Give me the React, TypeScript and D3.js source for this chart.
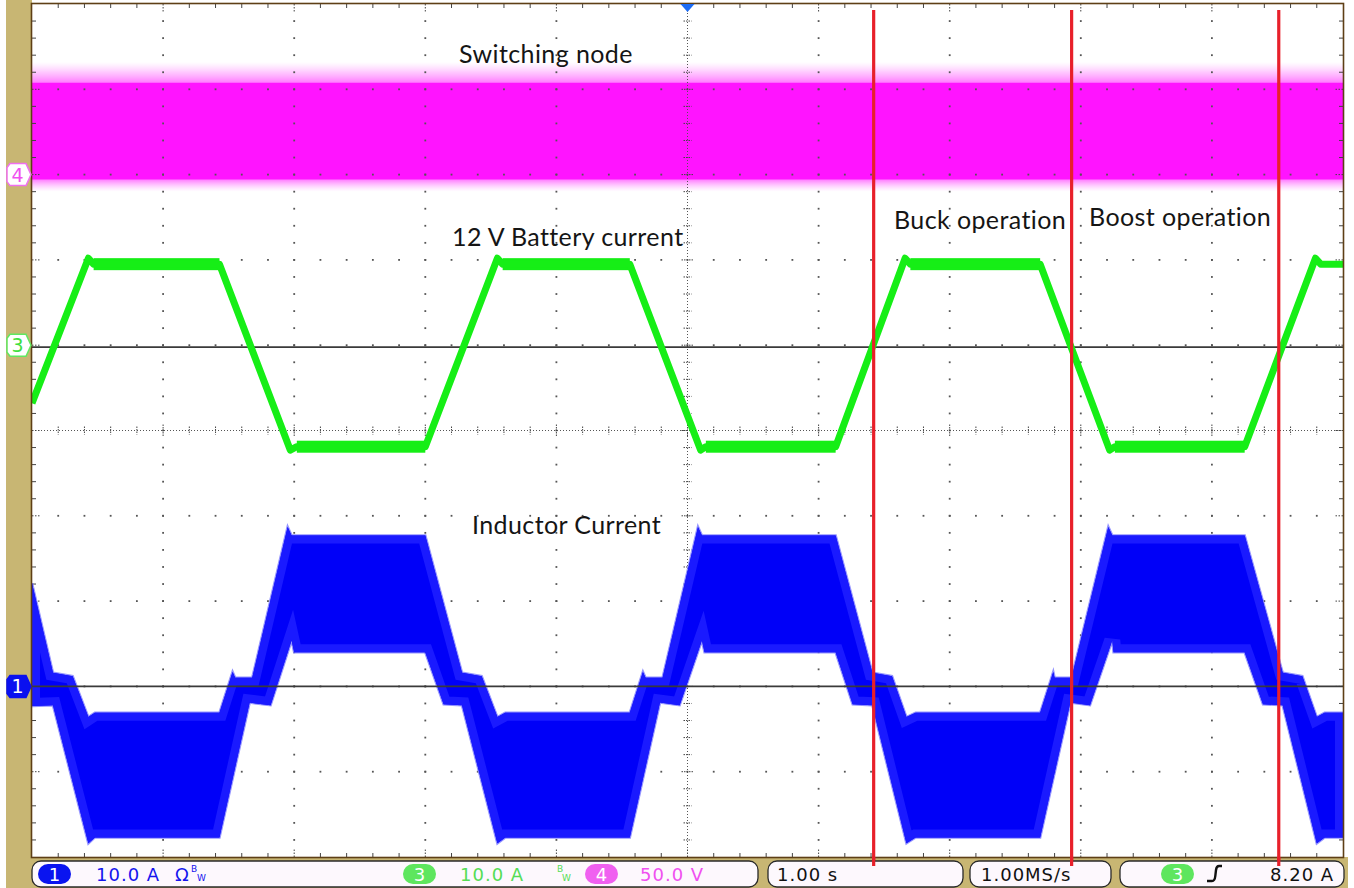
import React from "react";
import * as d3 from "d3";

// ---------------- DATA (read from the scope capture) ----------------
// Channel settings: amps/volts per division and reference offset (divisions from centre)
const channelIds = [1, 3, 4];
const channelPerDiv = [10, 10, 50];
const channelOffsetDiv = [-3, 1, 3];

// Horizontal: 1.00 s / div, 10 divisions; vertical: 10 divisions
const timeRange = [0, 10];
const divRange = [-5, 5];

// Ch1 – inductor current envelope [time s, current A]
const inductorUpper: [number, number][] = [
  [0.0, 12.1], [0.16, 1.6], [0.31, 1.2], [0.43, -3.6], [0.48, -3.1], [1.43, -3.1],
  [1.53, 1.7], [1.55, 1.0], [1.68, 1.0], [1.95, 18.7], [1.98, 17.7], [3.0, 17.7],
  [3.28, 1.6], [3.43, 1.2], [3.55, -3.6], [3.61, -3.1], [4.56, -3.1],
  [4.66, 1.7], [4.68, 1.0], [4.81, 1.0], [5.08, 18.7], [5.11, 17.7], [6.13, 17.7],
  [6.41, 1.6], [6.56, 1.2], [6.67, -3.6], [6.74, -3.1], [7.69, -3.1],
  [7.79, 1.7], [7.8, 1.0], [7.93, 1.0], [8.21, 18.7], [8.24, 17.7], [9.25, 17.7],
  [9.54, 1.6], [9.69, 1.2], [9.8, -3.6], [9.86, -3.1], [10.0, -3.1],
];
const inductorLower: [number, number][] = [
  [0.0, -2.3], [0.16, -2.2], [0.43, -18.4], [0.48, -17.7], [1.43, -17.7],
  [1.66, -1.9], [1.82, -2.2], [1.98, 5.4], [2.0, 4.0], [3.0, 4.0],
  [3.14, -2.1], [3.28, -2.2], [3.55, -18.4], [3.61, -17.7], [4.56, -17.7],
  [4.79, -1.9], [4.94, -2.2], [5.11, 5.4], [5.13, 4.0], [6.13, 4.0],
  [6.26, -2.1], [6.41, -2.2], [6.67, -18.4], [6.74, -17.7], [7.69, -17.7],
  [7.92, -1.9], [8.07, -2.2], [8.24, 5.4], [8.25, 4.0], [9.25, 4.0],
  [9.39, -2.1], [9.54, -2.2], [9.8, -18.4], [9.86, -17.7], [10.0, -17.7],
];

// Ch3 – 12 V battery current [time s, current A]
const batteryCurrent: [number, number][] = [
  [0.0, -6.8], [0.43, 10.2], [0.47, 9.5], [1.43, 9.5], [1.97, -12.3], [2.02, -11.9], [3.0, -11.9],
  [3.55, 10.2], [3.59, 9.5], [4.56, 9.5], [5.1, -12.3], [5.14, -11.9], [6.13, -11.9],
  [6.66, 10.2], [6.7, 9.5], [7.69, 9.5], [8.22, -12.3], [8.26, -11.9], [9.25, -11.9],
  [9.79, 10.2], [9.83, 9.5], [10.0, 9.5],
];

// Ch4 – switching node: solid envelope and noise fringe [high V, low V]
const switchNodeEnvelope = [54, -3];
const switchNodeNoise = [66, -10];

// Red annotation boundaries (time, s)
const operationBoundaries = [6.42, 7.93, 9.51];

// Annotation texts
const labelTexts = ["Switching node", "12 V Battery current", "Inductor Current", "Buck operation", "Boost operation"];

// Status bar readouts
const statusCh1 = "10.0 A";
const statusCh3 = "10.0 A";
const statusCh4 = "50.0 V";
const statusTimebase = "1.00 s";
const statusSampleRate = "1.00MS/s";
const statusTrigger = "8.20 A";

// ---------------- LAYOUT / STYLE ----------------
const W = 1354;
const H = 888;
const P = { left: 32, right: 1343, top: 4, bottom: 857 };
const TAN = "#c8b673";
const FRAME = "#5e3f16";
const COLORS: Record<number, string> = { 1: "#0000f8", 3: "#16ee16", 4: "#ff14ff" };
const labelPos = [
  { x: 459, y: 63 },
  { x: 452, y: 246 },
  { x: 472, y: 534 },
  { x: 894, y: 229 },
  { x: 1089, y: 226 },
];

export default function App() {
  const x = d3.scaleLinear().domain(timeRange).range([P.left, P.right]);
  const yDiv = d3.scaleLinear().domain(divRange).range([P.bottom, P.top]);
  const ch = (id: number) => {
    const i = channelIds.indexOf(id);
    return (v: number) => yDiv(v / channelPerDiv[i] + channelOffsetDiv[i]);
  };
  const y1 = ch(1);
  const y3 = ch(3);
  const y4 = ch(4);

  const minorX = d3.range(0, 51).map((i) => x(i / 5));
  const minorY = d3.range(-25, 26).map((j) => yDiv(j / 5));
  const majorXIdx = d3.range(1, 10).filter((k) => k !== 5);
  const majorYIdx = d3.range(-4, 5).filter((k) => k !== 0);

  const line = d3.line<[number, number]>();

  const indPoly: [number, number][] = [
    ...inductorUpper.map(([t, v]) => [x(t), y1(v)] as [number, number]),
    ...inductorLower.slice().reverse().map(([t, v]) => [x(t), y1(v)] as [number, number]),
  ];
  const indPath = line(indPoly) + "Z";

  const greenPath = line(batteryCurrent.map(([t, v]) => [x(t), y3(v)] as [number, number]))!;
  const greenPlateaus = d3.pairs(batteryCurrent).filter(([a, b]) => Math.abs(a[1] - b[1]) < 0.05 && b[0] - a[0] > 0.3);

  const dots: JSX.Element[] = [];
  majorXIdx.forEach((k) => {
    minorY.slice(1, -1).forEach((yy, j) => {
      dots.push(<rect key={`vx${k}-${j}`} x={x(k) - 0.9} y={yy - 0.9} width={1.8} height={1.8} fill="#555" />);
    });
  });
  majorYIdx.forEach((k) => {
    minorX.slice(1, -1).forEach((xx, j) => {
      dots.push(<rect key={`hy${k}-${j}`} x={xx - 0.9} y={yDiv(k) - 0.9} width={1.8} height={1.8} fill="#555" />);
    });
  });

  const ticks: JSX.Element[] = [];
  minorX.slice(1, -1).forEach((xx, i) => {
    const major = (i + 1) % 5 === 0;
    const len = major ? 9 : 4;
    ticks.push(<line key={`tt${i}`} x1={xx} x2={xx} y1={P.top} y2={P.top + len} stroke="#444" strokeWidth={1} strokeDasharray={major ? "1.5 1.5" : undefined} />);
    ticks.push(<line key={`tb${i}`} x1={xx} x2={xx} y1={P.bottom} y2={P.bottom - len} stroke="#444" strokeWidth={1} strokeDasharray={major ? "1.5 1.5" : undefined} />);
    ticks.push(<line key={`ch${i}`} x1={xx} x2={xx} y1={yDiv(0) - (major ? 6 : 4)} y2={yDiv(0) + (major ? 6 : 4)} stroke="#444" strokeWidth={1} strokeDasharray="1.5 1" />);
  });
  minorY.slice(1, -1).forEach((yy, i) => {
    const major = (i + 1) % 5 === 0;
    const len = major ? 9 : 4;
    ticks.push(<line key={`tl${i}`} y1={yy} y2={yy} x1={P.left} x2={P.left + len} stroke="#444" strokeWidth={1} strokeDasharray={major ? "1.5 1.5" : undefined} />);
    ticks.push(<line key={`tr${i}`} y1={yy} y2={yy} x1={P.right} x2={P.right - len} stroke="#444" strokeWidth={1} strokeDasharray={major ? "1.5 1.5" : undefined} />);
    ticks.push(<line key={`cv${i}`} y1={yy} y2={yy} x1={x(5) - (major ? 6 : 4)} x2={x(5) + (major ? 6 : 4)} stroke="#444" strokeWidth={1} strokeDasharray="1.5 1" />);
  });

  const marker = (yy: number, fill: string, stroke: string, txt: string, txtColor: string, key: string) => (
    <g key={key}>
      <polygon
        points={[[10, yy - 11], [26, yy - 11], [31, yy], [26, yy + 11], [10, yy + 11], [7, yy + 7], [7, yy - 7]].map((p) => p.join(",")).join(" ")}
        fill={fill}
        stroke={stroke}
        strokeWidth={1.5}
      />
      <text x={17.5} y={yy + 7} textAnchor="middle" fontFamily="DejaVu Sans, sans-serif" fontSize={19} fill={txtColor}>
        {txt}
      </text>
    </g>
  );

  const pill = (cx: number, color: string, txt: string, key: string) => (
    <g key={key}>
      <rect x={cx - 16.5} y={864} width={33} height={20} rx={10} fill={color} />
      <text x={cx} y={881} textAnchor="middle" fontFamily="DejaVu Sans, sans-serif" fontSize={18} fill="#fff">
        {txt}
      </text>
    </g>
  );

  const statusFont = { fontFamily: "DejaVu Sans, sans-serif", fontSize: 18, letterSpacing: 1 } as const;
  const small = { fontFamily: "DejaVu Sans, sans-serif", fontSize: 9 } as const;

  return (
    <svg width={W} height={H} style={{ position: "fixed", left: 0, top: 0, background: "#fff" }}>
      <defs>
        <linearGradient id="magTop" x1="0" y1="0" x2="0" y2="1">
          <stop offset="0" stopColor="#ffb0ff" stopOpacity={0} />
          <stop offset="0.5" stopColor="#ff90ff" stopOpacity={0.5} />
          <stop offset="1" stopColor="#ff70ff" stopOpacity={0.9} />
        </linearGradient>
        <linearGradient id="magBot" x1="0" y1="0" x2="0" y2="1">
          <stop offset="0" stopColor="#ff70ff" stopOpacity={0.9} />
          <stop offset="1" stopColor="#ffb0ff" stopOpacity={0} />
        </linearGradient>
        <clipPath id="plotClip">
          <rect x={P.left} y={P.top} width={P.right - P.left} height={P.bottom - P.top} />
        </clipPath>
        <clipPath id="indClip">
          <path d={indPath} />
        </clipPath>
      </defs>

      {/* frame background */}
      <rect x={6} y={0} width={P.left - 6} height={H} fill={TAN} />
      <rect x={6} y={P.bottom} width={P.right + 5 - 6} height={H - P.bottom} fill={TAN} />
      <rect x={P.left} y={P.top} width={P.right - P.left} height={P.bottom - P.top} fill="#fff" />

      <g clipPath="url(#plotClip)">
        {/* switching node */}
        <rect x={x(0)} y={y4(switchNodeNoise[0])} width={x(10) - x(0)} height={y4(switchNodeEnvelope[0]) - y4(switchNodeNoise[0])} fill="url(#magTop)" />
        <rect x={x(0)} y={y4(switchNodeEnvelope[1])} width={x(10) - x(0)} height={y4(switchNodeNoise[1]) - y4(switchNodeEnvelope[1])} fill="url(#magBot)" />
        <rect x={x(0)} y={y4(switchNodeEnvelope[0])} width={x(10) - x(0)} height={y4(switchNodeEnvelope[1]) - y4(switchNodeEnvelope[0])} fill={COLORS[4]} />

        {/* grid */}
        {dots}
        <line x1={x(5)} x2={x(5)} y1={P.top} y2={P.bottom} stroke="#555" strokeWidth={1} strokeDasharray="1 2" />
        <line x1={P.left} x2={P.right} y1={yDiv(0)} y2={yDiv(0)} stroke="#555" strokeWidth={1} strokeDasharray="1 2" />
        {ticks}

        {/* ch3 reference */}
        <line x1={P.left} x2={P.right} y1={y3(0) + 2} y2={y3(0) + 2} stroke="#3a3a3a" strokeWidth={1.8} />

        {/* inductor current */}
        <path d={indPath} fill="none" stroke="#7878ff" strokeWidth={2.5} strokeOpacity={0.8} />
        <path d={indPath} fill={COLORS[1]} />
        <path d={indPath} fill="none" stroke="#1a1aff" strokeWidth={16} clipPath="url(#indClip)" />

        {/* battery current */}
        {greenPlateaus.map(([a, b], i) => (
          <rect key={`gp${i}`} x={x(a[0])} y={y3(a[1]) - 6} width={x(b[0]) - x(a[0])} height={12} fill={COLORS[3]} />
        ))}
        <path d={greenPath} fill="none" stroke={COLORS[3]} strokeWidth={7} strokeLinejoin="round" />

        {/* ch1 reference */}
        <line x1={P.left} x2={P.right} y1={y1(0)} y2={y1(0)} stroke="#3a3a3a" strokeWidth={1.8} />
      </g>

      {/* frame border */}
      <rect x={P.left - 0.5} y={P.top - 0.5} width={P.right - P.left + 1} height={P.bottom - P.top + 1} fill="none" stroke={FRAME} strokeWidth={1.6} />

      {/* trigger position marker */}
      <path d={`M${x(5) - 7},${P.top} L${x(5) + 7},${P.top} L${x(5)},${P.top + 8} Z`} fill="#1c6cf5" />

      {/* channel markers */}
      {marker(y4(0), "#fff", "#f070f0", "4", "#f050f0", "m4")}
      {marker(y3(0), "#fff", "#60e860", "3", "#40e040", "m3")}
      {marker(y1(0), "#0a10f0", "#0a10f0", "1", "#fff", "m1")}

      {/* labels */}
      {labelTexts.map((t, i) => (
        <text key={t} x={labelPos[i].x} y={labelPos[i].y} fontFamily="Lato, 'Open Sans', sans-serif" fontSize={25} letterSpacing={0.4} fill="#151515">
          {t}
        </text>
      ))}

      {/* red boundaries */}
      {operationBoundaries.map((t) => (
        <line key={t} x1={x(t)} x2={x(t)} y1={10} y2={866} stroke="#e8202a" strokeWidth={3.2} />
      ))}

      {/* status bar */}
      <rect x={32} y={861} width={726} height={26} rx={9} fill="#fdf8fd" stroke="#2a2a2a" strokeWidth={1.3} />
      <rect x={768} y={861} width={195} height={26} rx={9} fill="#fdf8fd" stroke="#2a2a2a" strokeWidth={1.3} />
      <rect x={970} y={861} width={141} height={26} rx={9} fill="#fdf8fd" stroke="#2a2a2a" strokeWidth={1.3} />
      <rect x={1120} y={861} width={224} height={26} rx={9} fill="#fdf8fd" stroke="#2a2a2a" strokeWidth={1.3} />
      {operationBoundaries.map((t) => (
        <line key={`s${t}`} x1={x(t)} x2={x(t)} y1={857} y2={866} stroke="#e8202a" strokeWidth={3.2} />
      ))}

      {pill(54.5, "#0a14f0", String(channelIds[0]), "p1")}
      <text x={96} y={881} {...statusFont} fill="#1414ee">{statusCh1}</text>
      <text x={175} y={881} {...statusFont} fill="#1414ee">Ω</text>
      <text x={191} y={872} {...small} fill="#1414ee">B</text>
      <text x={197} y={881} {...small} fill="#1414ee">W</text>

      {pill(419.5, "#5ee65e", String(channelIds[1]), "p3")}
      <text x={460} y={881} {...statusFont} fill="#55dd55">{statusCh3}</text>
      <text x={557} y={872} {...small} fill="#55dd55">B</text>
      <text x={562} y={881} {...small} fill="#55dd55">W</text>

      {pill(601.5, "#f060f0", String(channelIds[2]), "p4")}
      <text x={640} y={881} {...statusFont} fill="#f050f0">{statusCh4}</text>

      <text x={777} y={881} {...statusFont} fill="#111">{statusTimebase}</text>
      <text x={981} y={881} {...statusFont} fill="#111">{statusSampleRate}</text>

      {pill(1177.5, "#5ee65e", String(channelIds[1]), "pt")}
      <path d="M1207,881 L1212,881 C1214,881 1215,879 1215.3,876 L1216,870 C1216.4,867 1217.4,866 1219,866 L1222,866" fill="none" stroke="#111" strokeWidth={2.4} />
      <text x={1270} y={881} {...statusFont} fill="#111">{statusTrigger}</text>
    </svg>
  );
}
